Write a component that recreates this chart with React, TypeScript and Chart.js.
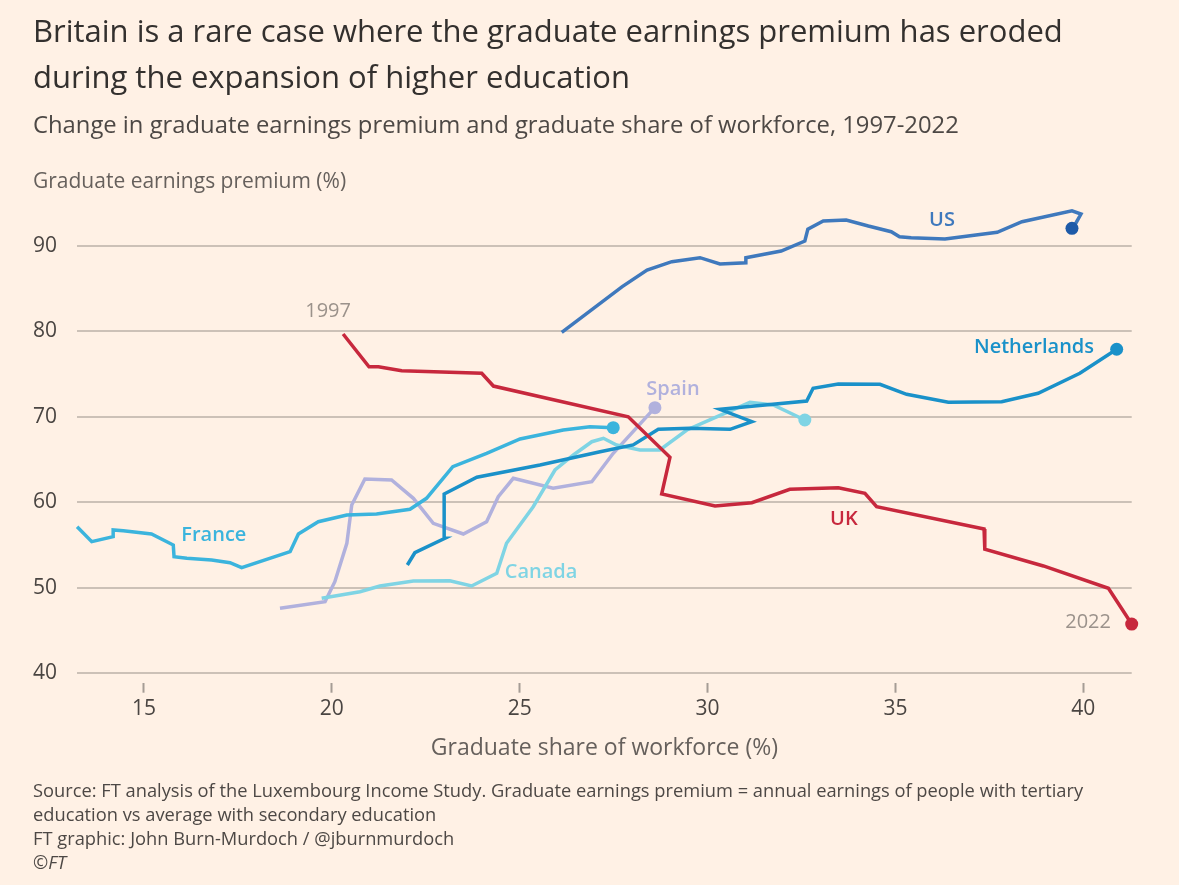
import { useEffect, useRef } from "react";
import { Chart, registerables } from "chart.js";

Chart.register(...registerables);

const FONT = "'Open Sans', 'Noto Sans', sans-serif";

// axis ticks
const xTicks = [15, 20, 25, 30, 35, 40];
const yTicks = [40, 50, 60, 70, 80, 90];

// graduate share of workforce (%) / graduate earnings premium (%), 1997 -> 2022
const usX = [26.12, 27.73, 28.39, 29.05, 29.8, 30.33, 31.02, 31.02, 31.96, 32.59, 32.67, 33.08, 33.69, 34.28, 34.89, 35.11, 35.42, 36.32, 37.71, 38.37, 39.7, 39.94, 39.81, 39.7];
const usY = [79.87, 85.21, 87.16, 88.13, 88.6, 87.86, 88.01, 88.6, 89.38, 90.55, 91.92, 92.89, 93.01, 92.3, 91.64, 91.05, 90.94, 90.78, 91.57, 92.81, 94.09, 93.71, 92.69, 92.03];

const ukX = [20.3, 20.99, 21.24, 21.86, 23.99, 24.3, 27.89, 29.0, 28.78, 30.2, 31.18, 32.19, 33.48, 34.19, 34.5, 37.36, 37.38, 38.94, 40.67, 41.29];
const ukY = [79.68, 75.85, 75.85, 75.38, 75.08, 73.59, 70.0, 65.26, 60.97, 59.56, 59.95, 61.52, 61.7, 61.05, 59.48, 56.87, 54.5, 52.55, 49.94, 45.76];

const nlX = [22.01, 22.21, 23.01, 22.99, 23.86, 25.54, 27.14, 28.02, 28.69, 29.53, 30.6, 31.18, 30.33, 32.64, 32.81, 33.48, 34.59, 35.3, 36.41, 37.83, 38.8, 39.91, 40.89];
const nlY = [52.66, 54.1, 55.79, 60.97, 62.92, 64.36, 65.91, 66.7, 68.53, 68.65, 68.53, 69.42, 70.87, 71.84, 73.33, 73.83, 73.79, 72.62, 71.69, 71.76, 72.74, 75.08, 77.89];

const frX = [13.22, 13.61, 14.18, 14.18, 14.45, 15.2, 15.78, 15.8, 16.14, 16.8, 17.29, 17.6, 18.89, 19.11, 19.64, 20.4, 21.19, 22.08, 22.52, 23.22, 24.12, 25.01, 26.16, 26.87, 27.49];
const frY = [57.14, 55.39, 55.97, 56.76, 56.67, 56.29, 55.0, 53.63, 53.45, 53.25, 52.93, 52.35, 54.22, 56.29, 57.73, 58.51, 58.63, 59.18, 60.46, 64.16, 65.73, 67.4, 68.45, 68.84, 68.72];

const esX = [18.62, 19.82, 20.08, 20.4, 20.53, 20.88, 21.59, 22.17, 22.7, 23.5, 24.12, 24.43, 24.83, 25.89, 26.92, 27.49, 28.6];
const esY = [47.6, 48.37, 50.71, 55.2, 59.68, 62.72, 62.6, 60.46, 57.54, 56.29, 57.73, 60.65, 62.8, 61.63, 62.4, 65.73, 71.06];

const caX = [19.73, 20.75, 21.28, 22.17, 23.14, 23.72, 24.39, 24.65, 25.36, 25.94, 26.43, 26.92, 27.23, 27.58, 28.2, 28.73, 29.45, 30.15, 31.13, 31.75, 32.59];
const caY = [48.77, 49.54, 50.21, 50.79, 50.83, 50.21, 51.69, 55.2, 59.48, 63.77, 65.53, 67.08, 67.48, 66.7, 66.11, 66.11, 68.45, 69.82, 71.69, 71.37, 69.62];

// annotation text anchored in data units
const annotations = [
  { text: "US", x: 36.24, y: 93.0 },
  { text: "Netherlands", x: 38.69, y: 78.15 },
  { text: "Spain", x: 29.08, y: 73.24 },
  { text: "France", x: 16.86, y: 56.17 },
  { text: "Canada", x: 25.57, y: 51.85 },
  { text: "UK", x: 33.63, y: 58.04 },
  { text: "1997", x: 19.9, y: 82.36 },
  { text: "2022", x: 40.13, y: 46.0 },
];

const colors: Record<string, string> = {
  US: "#3f79bd",
  USdot: "#1d5aa8",
  UK: "#c7283d",
  Netherlands: "#1a91c9",
  France: "#3bb4dd",
  Canada: "#7fd4e4",
  Spain: "#b1b1dd",
  "1997": "#9b928b",
  "2022": "#9b928b",
};

const pts = (xs: number[], ys: number[]) => xs.map((x, i) => ({ x, y: ys[i] }));

function makeSet(label: string, xs: number[], ys: number[], dot?: string) {
  const last = xs.length - 1;
  return {
    label,
    data: pts(xs, ys),
    showLine: true,
    borderColor: colors[label],
    borderWidth: 3.5,
    tension: 0,
    clip: false as const,
    pointRadius: (c: any) => (c.dataIndex === last ? 6.5 : 0),
    pointHoverRadius: (c: any) => (c.dataIndex === last ? 6.5 : 0),
    pointBackgroundColor: dot || colors[label],
    pointBorderWidth: 0,
  };
}

const labelPlugin = {
  id: "lineLabels",
  afterDatasetsDraw(chart: any) {
    const { ctx, scales } = chart;
    ctx.save();
    ctx.textAlign = "center";
    ctx.textBaseline = "middle";
    annotations.forEach((a) => {
      const isYear = a.text === "1997" || a.text === "2022";
      ctx.font = `${isYear ? 400 : 600} 20px ${FONT}`;
      ctx.fillStyle = colors[a.text];
      ctx.fillText(a.text, scales.x.getPixelForValue(a.x), scales.y.getPixelForValue(a.y));
    });
    ctx.restore();
  },
};

function EarningsChart() {
  const canvasRef = useRef<HTMLCanvasElement>(null);
  const chartRef = useRef<Chart | null>(null);

  useEffect(() => {
    if (!canvasRef.current) return;
    if (chartRef.current) chartRef.current.destroy();

    Chart.defaults.font.family = FONT;

    chartRef.current = new Chart(canvasRef.current, {
      type: "scatter",
      data: {
        datasets: [
          makeSet("UK", ukX, ukY),
          makeSet("US", usX, usY, colors.USdot),
          makeSet("Netherlands", nlX, nlY),
          makeSet("Canada", caX, caY),
          makeSet("France", frX, frY),
          makeSet("Spain", esX, esY),
        ] as any,
      },
      options: {
        animation: false,
        responsive: true,
        maintainAspectRatio: false,
        layout: { padding: { left: 33, right: 47.3, top: 194.4, bottom: 117.3 } },
        plugins: {
          legend: { display: false },
          tooltip: { enabled: false },
        },
        scales: {
          x: {
            type: "linear",
            min: 13.22,
            max: 41.29,
            afterBuildTicks: (s: any) => {
              s.ticks = xTicks.map((v) => ({ value: v }));
            },
            afterFit: (s: any) => {
              s.height = 85;
            },
            border: { display: false },
            grid: {
              drawOnChartArea: false,
              drawTicks: true,
              tickLength: 10,
              tickColor: "#a59c95",
              tickWidth: 2,
            },
            ticks: {
              padding: 4,
              color: "#4a4542",
              font: { size: 21 },
              maxRotation: 0,
              autoSkip: false,
            },
            title: {
              display: true,
              text: "Graduate share of workforce (%)",
              color: "#66605c",
              font: { size: 23 },
              padding: { top: 0, bottom: 5 },
            },
          },
          y: {
            type: "linear",
            min: 38.9,
            max: 96,
            afterBuildTicks: (s: any) => {
              s.ticks = yTicks.map((v) => ({ value: v }));
            },
            afterFit: (s: any) => {
              s.width = 44.1;
            },
            border: { display: false },
            grid: { color: "#ccc1b7", lineWidth: 2, drawTicks: false },
            ticks: {
              crossAlign: "far",
              padding: 0,
              color: "#4a4542",
              font: { size: 21 },
            },
          },
        },
      },
      plugins: [labelPlugin],
    });

    return () => {
      if (chartRef.current) {
        chartRef.current.destroy();
        chartRef.current = null;
      }
    };
  }, []);

  return (
    <div style={{ position: "absolute", left: 0, top: 0, width: 1179, height: 885 }}>
      <canvas ref={canvasRef} />
    </div>
  );
}

export default function App() {
  const text = { position: "absolute" as const, left: 33, whiteSpace: "nowrap" as const, fontFamily: FONT };
  return (
    <div
      style={{
        position: "absolute",
        left: 0,
        top: 0,
        width: 1179,
        height: 885,
        overflow: "hidden",
        background: "#fff1e5",
      }}
    >
      <EarningsChart />
      <div style={{ ...text, top: 7, fontSize: 31, lineHeight: "46px", color: "#33302e" }}>
        Britain is a rare case where the graduate earnings premium has eroded
        <br />
        during the expansion of higher education
      </div>
      <div style={{ ...text, top: 109, fontSize: 23.8, lineHeight: "30px", color: "#4d4845" }}>
        Change in graduate earnings premium and graduate share of workforce, 1997-2022
      </div>
      <div style={{ ...text, top: 166, fontSize: 21, lineHeight: "28px", color: "#66605c" }}>
        Graduate earnings premium (%)
      </div>
      <div style={{ ...text, top: 778, fontSize: 18.3, lineHeight: "24px", color: "#4d4845" }}>
        Source: FT analysis of the Luxembourg Income Study. Graduate earnings premium = annual earnings of people with tertiary
        <br />
        education vs average with secondary education
        <br />
        FT graphic: John Burn-Murdoch / @jburnmurdoch
        <br />
        <i>©FT</i>
      </div>
    </div>
  );
}
